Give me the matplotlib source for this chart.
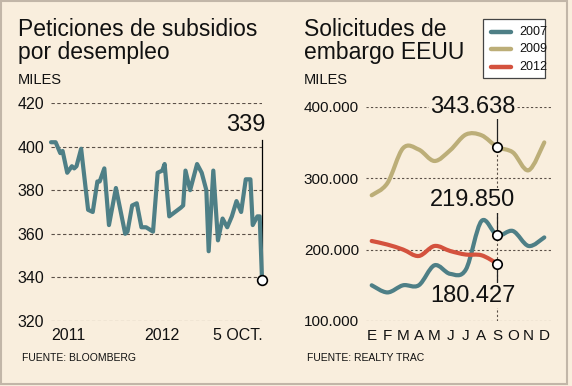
import matplotlib
matplotlib.use("Agg")
import matplotlib.pyplot as plt
from matplotlib.path import Path
from matplotlib.patches import PathPatch, Rectangle
from matplotlib.lines import Line2D
import matplotlib.transforms as mtransforms

# ---------------- data ----------------
# Left: weekly jobless claims (thousands), week index since early 2011
claims_week = [0, 2, 4, 5, 7, 9, 10, 11, 13, 16, 18, 20, 21, 23, 25, 28, 32, 33, 35, 37,
               39, 41, 44, 46, 48, 49, 51, 56, 57, 58, 60, 63, 65, 67, 68, 70, 72, 74, 76,
               78, 80, 82, 84, 86, 87, 89, 90, 91]
claims_val = [402, 402, 397, 398, 388, 391, 390, 391, 399, 371, 370, 384, 384, 390, 364,
              381, 360, 361, 373, 374, 363, 363, 361, 388, 389, 392, 368, 372, 373, 389,
              380, 392, 388, 380, 352, 389, 357, 367, 363, 368, 375, 370, 385, 385, 364,
              368, 368, 339]
claims_ticks = ["2011", "2012", "5 OCT."]
claims_tick_pos = [0, 48, 91]

# Right: foreclosure filings (thousands) by month
months = ["E", "F", "M", "A", "M", "J", "J", "A", "S", "O", "N", "D"]
f2007 = [150, 140, 150, 150, 178, 166, 172, 240, 219.850, 226, 205, 217]
f2009 = [276, 293, 342, 340, 324, 339, 361, 360, 343.638, 336, 311, 350]
f2012 = [212, 207, 200, 191, 205, 198, 193, 192, 180.427]

BG = "#f9eedd"
TEAL = "#4e7f86"
OLIVE = "#bcae78"
RED = "#d4523e"
GRID = "#5b5048"
FONT = "Liberation Sans"

W, H = 572, 386
fig = plt.figure(figsize=(W / 100, H / 100), dpi=100, facecolor=BG)
plt.rcParams["font.family"] = [FONT, "DejaVu Sans"]


def fx(x):
    return x / W


def fy(y):
    return 1 - y / H


def axes_rect(x0, x1, ytop, ybot):
    return [fx(x0), fy(ybot), fx(x1) - fx(x0), fy(ytop) - fy(ybot)]


# frame
fig.add_artist(Rectangle((fx(0.5), fy(383.5)), fx(567) - fx(0.5), fy(0.5) - fy(383.5),
                         transform=fig.transFigure, fill=False, edgecolor="#c2b6a8", lw=1.5))

# ---------------- left chart ----------------
axL = fig.add_axes(axes_rect(51, 262, 103, 321))
axL.set_facecolor("none")
axL.set_xlim(0, 91)
axL.set_ylim(320, 420)
for s in axL.spines.values():
    s.set_visible(False)
axL.set_yticks([320, 340, 360, 380, 400, 420])
axL.set_yticklabels(["320", "340", "360", "380", "400", "420"], fontsize=11.5, color="#111")
axL.tick_params(axis="y", length=0, pad=5)
axL.set_xticks([])
axL.yaxis.grid(True, linestyle=(0, (3, 2.2)), color=GRID, lw=0.8)
axL.set_axisbelow(True)
axL.plot(claims_week, claims_val, color=TEAL, lw=3, solid_joinstyle="round",
         solid_capstyle="round", zorder=3, clip_on=False)
axL.plot([claims_week[-1], claims_week[-1]], [claims_val[-1], 403], color="black", lw=0.9,
         zorder=2, clip_on=False)
axL.plot([claims_week[-1]], [claims_val[-1]], marker="o", ms=7, mfc="white", mec="black",
         mew=1.2, zorder=4, clip_on=False)
axL.text(claims_week[-1] + 1.5, 405, f"{claims_val[-1]:.0f}", ha="right", va="bottom",
         fontsize=17, color="#111")
tb = mtransforms.blended_transform_factory(axL.transData, fig.transFigure)
for lab, pos, ha in zip(claims_ticks, claims_tick_pos, ["left", "center", "right"]):
    axL.text(pos + (0.5 if ha == "right" else 0), fy(335), lab, transform=tb, ha=ha,
             va="center", fontsize=11.5, color="#111")

fig.text(fx(18), fy(29), "Peticiones de subsidios", fontsize=16.5, ha="left", va="center",
         color="#111")
fig.text(fx(18), fy(53), "por desempleo", fontsize=16.5, ha="left", va="center", color="#111")
fig.text(fx(18), fy(80), "MILES", fontsize=10.5, ha="left", va="center", color="#111")
fig.text(fx(22), fy(358), "FUENTE: BLOOMBERG", fontsize=7.5, ha="left", va="center",
         color="#111")

# ---------------- right chart ----------------
step = 15.69
xl0 = (366 - 371.7) / step
xl1 = (551 - 371.7) / step
axR = fig.add_axes(axes_rect(366, 551, 106.7, 321))
axR.set_facecolor("none")
axR.set_xlim(xl0, xl1)
axR.set_ylim(100, 400)
for s in axR.spines.values():
    s.set_visible(False)
axR.set_yticks([100, 200, 300, 400])
axR.set_yticklabels(["100.000", "200.000", "300.000", "400.000"], fontsize=11, color="#111")
axR.tick_params(axis="y", length=0, pad=5)
axR.set_xticks(range(len(months)))
axR.set_xticklabels(months, fontsize=11, color="#111")
axR.tick_params(axis="x", length=0, pad=6)
axR.yaxis.grid(True, linestyle=(0, (2, 2)), color=GRID, lw=0.8)
axR.set_axisbelow(True)


def smooth_path(xs, ys):
    pts = list(zip(xs, ys))
    verts = [pts[0]]
    codes = [Path.MOVETO]
    n = len(pts)
    for i in range(n - 1):
        p0 = pts[i - 1] if i > 0 else pts[i]
        p1 = pts[i]
        p2 = pts[i + 1]
        p3 = pts[i + 2] if i + 2 < n else pts[i + 1]
        c1 = (p1[0] + (p2[0] - p0[0]) / 6, p1[1] + (p2[1] - p0[1]) / 6)
        c2 = (p2[0] - (p3[0] - p1[0]) / 6, p2[1] - (p3[1] - p1[1]) / 6)
        verts += [c1, c2, p2]
        codes += [Path.CURVE4] * 3
    return Path(verts, codes)


for vals, col in [(f2009, OLIVE), (f2007, TEAL), (f2012, RED)]:
    path = smooth_path(list(range(len(vals))), vals)
    axR.add_patch(PathPatch(path, fill=False, edgecolor=col, lw=3, capstyle="round",
                            joinstyle="round", zorder=3))

sx = 8
axR.plot([sx, sx], [100, f2009[sx]], color=GRID, lw=0.8, linestyle=(0, (2, 2)), zorder=1)
axR.plot([sx, sx], [400, f2009[sx]], color="#222", lw=0.9, zorder=2)
axR.plot([sx, sx], [252, f2007[sx]], color="#222", lw=0.9, zorder=2)
axR.plot([sx, sx], [f2012[sx], 155], color="#222", lw=0.9, zorder=2)
for vals in (f2009, f2007, f2012):
    axR.plot([sx], [vals[sx]], marker="o", ms=6.8, mfc="white", mec="black", mew=1.2,
             zorder=5)


def fmt(v):
    return f"{v:,.3f}".replace(",", "X").replace(".", ",").replace("X", ".").split(",")[0] \
        if False else f"{int(round(v * 1000)):,}".replace(",", ".")


bbox = dict(boxstyle="square,pad=0.05", facecolor=BG, edgecolor="none")
axR.text(sx - 1.55, 400, fmt(f2009[sx]), ha="center", va="center", fontsize=17,
         color="#111", bbox=bbox, zorder=4)
axR.text(sx - 1.55, 300 - (199 - 176.7) / 0.7143, fmt(f2007[sx]), ha="center", va="center",
         fontsize=17, color="#111", bbox=bbox, zorder=4)
axR.text(sx - 1.55, 200 - (295 - 249) / 0.7143, fmt(f2012[sx]), ha="center", va="center",
         fontsize=17, color="#111", bbox=bbox, zorder=4)

fig.text(fx(304), fy(29), "Solicitudes de", fontsize=16.5, ha="left", va="center",
         color="#111")
fig.text(fx(304), fy(53), "embargo EEUU", fontsize=16.5, ha="left", va="center", color="#111")
fig.text(fx(304), fy(80), "MILES", fontsize=10.5, ha="left", va="center", color="#111")
fig.text(fx(307), fy(358), "FUENTE: REALTY TRAC", fontsize=7.5, ha="left", va="center",
         color="#111")

# legend
fig.add_artist(Rectangle((fx(482.7), fy(78.3)), fx(545) - fx(482.7), fy(19.3) - fy(78.3),
                         transform=fig.transFigure, facecolor="white", edgecolor="#444",
                         lw=0.9, zorder=5))
for lab, col, yy in [("2007", TEAL, 32), ("2009", OLIVE, 49), ("2012", RED, 66.5)]:
    fig.add_artist(Line2D([fx(491), fx(511)], [fy(yy), fy(yy)], transform=fig.transFigure,
                          color=col, lw=3.2, solid_capstyle="round", zorder=6))
    fig.text(fx(519), fy(yy), lab, fontsize=9, ha="left", va="center", color="#111",
             zorder=6)

fig.savefig("out.png", dpi=100, facecolor=BG)
